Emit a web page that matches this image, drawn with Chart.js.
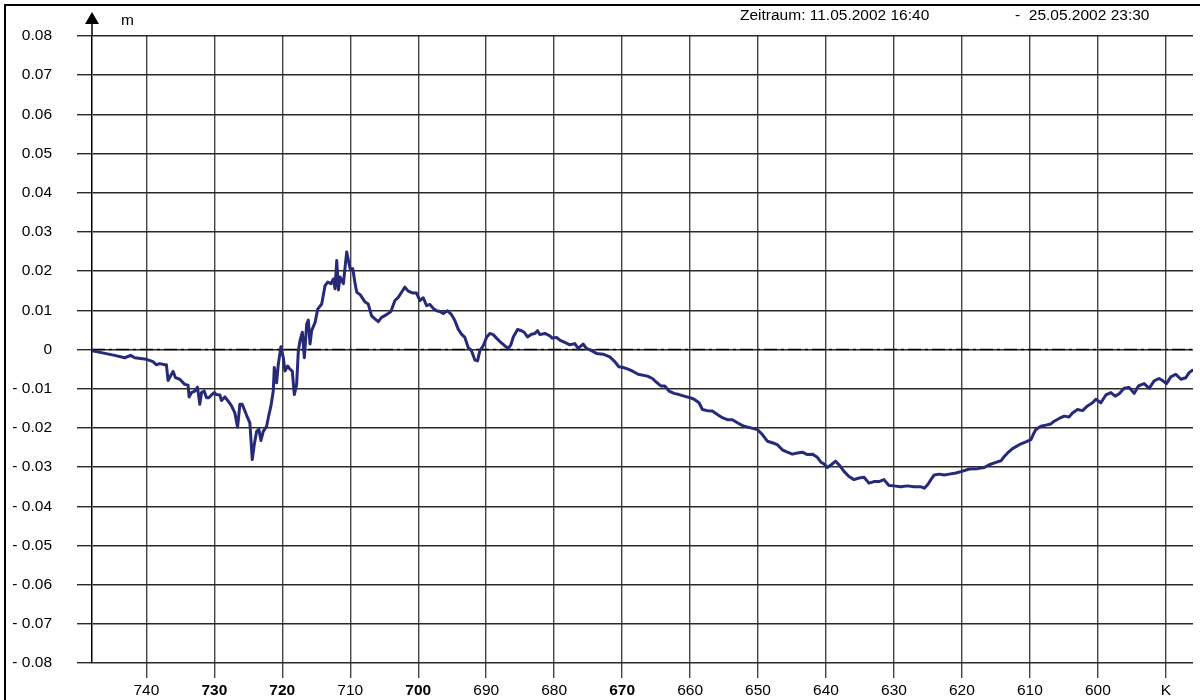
<!DOCTYPE html>
<html>
<head>
<meta charset="utf-8">
<script src="https://cdn.jsdelivr.net/npm/chart.js@4.4.1/dist/chart.umd.min.js"></script>
<style>
  html, body { margin: 0; padding: 0; background: #fff; }
  #wrap { position: relative; width: 1200px; height: 700px; }
</style>
</head>
<body>
<div id="wrap"><canvas id="c" width="1200" height="700"></canvas></div>
<script>
// Station (K) along the track, decreasing from left to right
const stationK = [
  748.00, 746.63, 744.67, 743.19, 742.31, 741.72, 740.00, 739.02, 738.53, 738.03,
  737.30, 737.05, 736.81, 736.31, 736.07, 735.72, 735.09, 734.35, 733.86, 733.71,
  733.37, 732.87, 732.48, 732.14, 731.89, 731.50, 731.15, 730.81, 730.42, 730.02,
  729.68, 729.19, 728.94, 728.45, 727.96, 727.47, 726.98, 726.58, 726.24, 725.90,
  725.50, 725.11, 724.77, 724.42, 724.13, 723.78, 723.44, 723.14, 722.80, 722.31,
  722.06, 721.67, 721.33, 721.18, 720.84, 720.59, 720.20, 719.85, 719.61, 719.21,
  718.87, 718.53, 718.23, 717.89, 717.64, 717.40, 717.05, 716.76, 716.41, 716.17,
  715.92, 715.68, 715.18, 714.79, 714.20, 713.71, 713.32, 712.83, 712.48, 712.24,
  711.99, 711.74, 711.50, 711.25, 711.01, 710.76, 710.52, 710.27, 710.02, 709.63,
  709.29, 709.04, 708.55, 707.81,
  707.35, 706.86, 706.37, 705.88, 705.39, 704.66, 704.02, 703.43, 702.94, 702.45,
  701.96, 701.47, 700.74, 700.25, 699.75, 699.26, 698.77, 698.28, 697.79, 697.30,
  696.81, 696.32, 695.69, 695.10, 694.61, 694.12, 693.63, 693.14, 692.65, 692.16,
  691.67, 691.27, 690.93, 690.44, 689.95, 689.46, 688.97, 688.48, 687.84, 687.25,
  686.76, 686.37, 686.03, 685.39, 684.80, 684.41, 683.92, 683.33, 682.84, 682.45,
  682.11, 681.37, 680.64, 680.29, 679.66, 679.17, 678.43, 677.70, 676.96, 676.47,
  675.74, 675.25, 674.51, 673.77, 672.79, 671.81, 671.08, 670.49, 669.85, 669.12,
  668.38, 667.65,
  666.27, 665.54, 665.05, 664.31, 663.73, 663.09, 662.35, 661.62, 660.88, 660.00,
  659.41, 658.68, 658.19, 657.45, 656.72, 655.98, 655.25, 654.51, 653.77, 653.04,
  652.06, 651.08, 650.10, 649.36, 648.63, 647.89, 647.16, 646.42, 645.69, 644.95,
  644.22, 643.48, 642.75, 642.01, 641.27, 640.78, 640.29, 639.80, 639.22, 638.58,
  638.09, 637.35, 636.62, 635.88, 635.15, 634.41, 633.68, 632.94, 632.21, 631.47,
  630.74, 630.00, 629.02, 628.04, 627.06, 626.08,
  625.54, 625.05, 624.56, 624.07, 623.33, 622.60, 621.86, 620.88, 620.00, 618.92,
  617.70, 616.72, 615.98, 615.00, 614.26, 613.77, 613.28, 612.55, 611.57, 610.59,
  609.85, 609.51, 609.12, 608.38, 607.65, 606.91, 606.42, 605.69, 604.95, 604.22,
  603.73, 602.99, 602.25, 601.52, 600.78, 600.29, 599.56, 598.82, 598.09, 597.45,
  596.86, 596.13, 595.39, 594.66, 594.02, 593.19, 592.45, 591.72, 590.98, 590.49,
  589.90, 589.26, 588.53, 587.79, 587.06, 586.57, 586.08
];

// Vertical displacement in metres at each station
const displacement = [
  -0.0003, -0.0008, -0.0015, -0.0021, -0.0015, -0.0021, -0.0025, -0.0031, -0.0039, -0.0036,
  -0.0039, -0.0039, -0.0079, -0.0063, -0.0056, -0.0072, -0.0076, -0.0089, -0.0091, -0.0121,
  -0.0110, -0.0106, -0.0096, -0.0140, -0.0110, -0.0106, -0.0123, -0.0123, -0.0116, -0.0110,
  -0.0115, -0.0116, -0.0130, -0.0121, -0.0132, -0.0144, -0.0162, -0.0198, -0.0140, -0.0140,
  -0.0157, -0.0174, -0.0187, -0.0281, -0.0243, -0.0209, -0.0204, -0.0232, -0.0209, -0.0196,
  -0.0174, -0.0144, -0.0106, -0.0046, -0.0085, -0.0038,  0.0007, -0.0021, -0.0055, -0.0042,
  -0.0050, -0.0055, -0.0115, -0.0089, -0.0003,  0.0022,  0.0044, -0.0021,  0.0065,  0.0075,
   0.0014,  0.0048,  0.0069,  0.0103,  0.0116,  0.0163,  0.0172,  0.0168,  0.0180,  0.0155,
   0.0227,  0.0152,  0.0185,  0.0176,  0.0168,  0.0210,  0.0249,  0.0227,  0.0206,  0.0206,
   0.0168,  0.0146,  0.0140,  0.0121,
   0.0116,  0.0086,  0.0078,  0.0071,  0.0082,  0.0089,  0.0097,  0.0125,  0.0133,  0.0146,
   0.0159,  0.0149,  0.0144,  0.0144,  0.0125,  0.0132,  0.0112,  0.0115,  0.0105,  0.0099,
   0.0097,  0.0092,  0.0099,  0.0089,  0.0074,  0.0052,  0.0039,  0.0031,  0.0005, -0.0003,
  -0.0027, -0.0029, -0.0003,  0.0009,  0.0031,  0.0041,  0.0038,  0.0029,  0.0018,  0.0009,
   0.0003,  0.0012,  0.0031,  0.0051,  0.0048,  0.0044,  0.0032,  0.0039,  0.0041,  0.0048,
   0.0038,  0.0041,  0.0035,  0.0029,  0.0031,  0.0024,  0.0018,  0.0012,  0.0015,  0.0003,
   0.0014,  0.0003, -0.0003, -0.0010, -0.0012, -0.0019, -0.0031, -0.0044, -0.0046, -0.0050,
  -0.0056, -0.0063,
  -0.0068, -0.0074, -0.0082, -0.0093, -0.0093, -0.0106, -0.0112, -0.0115, -0.0119, -0.0123,
  -0.0127, -0.0136, -0.0153, -0.0156, -0.0157, -0.0166, -0.0174, -0.0179, -0.0179, -0.0187,
  -0.0196, -0.0200, -0.0204, -0.0217, -0.0234, -0.0238, -0.0243, -0.0256, -0.0262, -0.0267,
  -0.0264, -0.0262, -0.0268, -0.0267, -0.0275, -0.0287, -0.0292, -0.0301, -0.0294, -0.0285,
  -0.0294, -0.0311, -0.0324, -0.0332, -0.0328, -0.0326, -0.0341, -0.0337, -0.0337, -0.0332,
  -0.0347, -0.0348, -0.0350, -0.0348, -0.0350, -0.0350,
  -0.0354, -0.0345, -0.0332, -0.0320, -0.0318, -0.0320, -0.0318, -0.0315, -0.0311, -0.0305,
  -0.0304, -0.0301, -0.0294, -0.0288, -0.0284, -0.0273, -0.0264, -0.0253, -0.0243, -0.0236,
  -0.0230, -0.0217, -0.0204, -0.0196, -0.0193, -0.0190, -0.0183, -0.0176, -0.0170, -0.0172,
  -0.0162, -0.0153, -0.0156, -0.0144, -0.0136, -0.0127, -0.0136, -0.0116, -0.0110, -0.0119,
  -0.0113, -0.0099, -0.0097, -0.0112, -0.0093, -0.0087, -0.0099, -0.0080, -0.0074, -0.0079,
  -0.0087, -0.0070, -0.0063, -0.0076, -0.0072, -0.0059, -0.0053
];

// Axis ticks
const xTickValues = [740, 730, 720, 710, 700, 690, 680, 670, 660, 650, 640, 630, 620, 610, 600, 590];
const xTickLabels = ['740', '730', '720', '710', '700', '690', '680', '670', '660', '650', '640', '630', '620', '610', '600', 'K'];
const xBoldTicks = [730, 720, 700, 670];
const yTickValues = [-0.08, -0.07, -0.06, -0.05, -0.04, -0.03, -0.02, -0.01, 0, 0.01, 0.02, 0.03, 0.04, 0.05, 0.06, 0.07, 0.08];

// Header texts
const unitLabel = 'm';
const periodFrom = 'Zeitraum: 11.05.2002 16:40';
const periodTo = '-  25.05.2002 23:30';

const kMin = 586, kMax = 748;
const FONT = '"Liberation Sans", Arial, Helvetica, sans-serif';
const FONT_SIZE = 15.5;

const points = stationK.map((k, i) => ({ x: k, y: displacement[i] }));
const zeroLine = [{ x: kMax, y: 0 }, { x: kMin, y: 0 }];

function yLabel(v) {
  const r = Math.round(v * 100);
  if (r === 0) return '0';
  const s = (Math.abs(r) / 100).toFixed(2);
  return r < 0 ? '- ' + s : s;
}

// Frame, axis arrow, unit and period header
const decor = {
  id: 'decor',
  afterDraw(chart) {
    const c = chart.ctx;
    const a = chart.chartArea;
    c.save();
    c.fillStyle = '#000';
    c.fillRect(4, 4, 1196, 2);   // top frame edge
    c.fillRect(4, 4, 2, 696);    // left frame edge

    // y axis continuing above the plot with an arrow head
    c.strokeStyle = '#000';
    c.lineWidth = 1.5;
    c.beginPath();
    c.moveTo(a.left, a.top);
    c.lineTo(a.left, 22);
    c.stroke();
    c.beginPath();
    c.moveTo(a.left, 12);
    c.lineTo(a.left - 7, 24);
    c.lineTo(a.left + 7, 24);
    c.closePath();
    c.fill();

    c.font = FONT_SIZE + 'px ' + FONT;
    c.textBaseline = 'middle';
    c.textAlign = 'left';
    c.fillText(unitLabel, 121, 21);
    c.fillText(periodFrom, 740, 16);
    c.fillText(periodTo, 1015, 16);
    c.restore();
  }
};

new Chart(document.getElementById('c'), {
  type: 'scatter',
  data: {
    datasets: [
      {
        data: points,
        showLine: true,
        borderColor: '#262a78',
        borderWidth: 3,
        borderJoinStyle: 'round',
        borderCapStyle: 'round',
        pointRadius: 0,
        tension: 0,
        order: 1
      },
      {
        data: zeroLine,
        showLine: true,
        borderColor: '#000',
        borderWidth: 1.5,
        borderDash: [13, 4, 3, 4],
        pointRadius: 0,
        order: 2
      }
    ]
  },
  options: {
    responsive: false,
    animation: false,
    devicePixelRatio: 1,
    layout: { padding: { top: 36, left: 6, right: 7, bottom: 0 } },
    plugins: { legend: { display: false }, tooltip: { enabled: false } },
    scales: {
      x: {
        type: 'linear',
        min: kMin,
        max: kMax,
        reverse: true,
        afterBuildTicks: s => { s.ticks = xTickValues.map(v => ({ value: v })); },
        afterFit: s => { s.height = 37; },
        border: { display: false },
        grid: { color: '#444', lineWidth: 1.4, tickLength: 15, drawTicks: true },
        ticks: {
          autoSkip: false,
          maxRotation: 0,
          padding: 3,
          color: '#000',
          font: ctx => ({
            family: FONT,
            size: FONT_SIZE,
            weight: (ctx.tick && xBoldTicks.includes(ctx.tick.value)) ? 'bold' : 'normal'
          }),
          callback: v => {
            const i = xTickValues.indexOf(v);
            return i >= 0 ? xTickLabels[i] : '';
          }
        }
      },
      y: {
        min: -0.08,
        max: 0.08,
        afterBuildTicks: s => { s.ticks = yTickValues.map(v => ({ value: v })); },
        afterFit: s => { s.width = 86; },
        border: { display: true, color: '#000', width: 1.5 },
        grid: { color: '#2a2a2a', lineWidth: 1.4, tickLength: 15, drawTicks: true },
        ticks: {
          autoSkip: false,
          padding: 25,
          color: '#000',
          font: { family: FONT, size: FONT_SIZE },
          callback: v => yLabel(v)
        }
      }
    }
  },
  plugins: [decor]
});
</script>
</body>
</html>
